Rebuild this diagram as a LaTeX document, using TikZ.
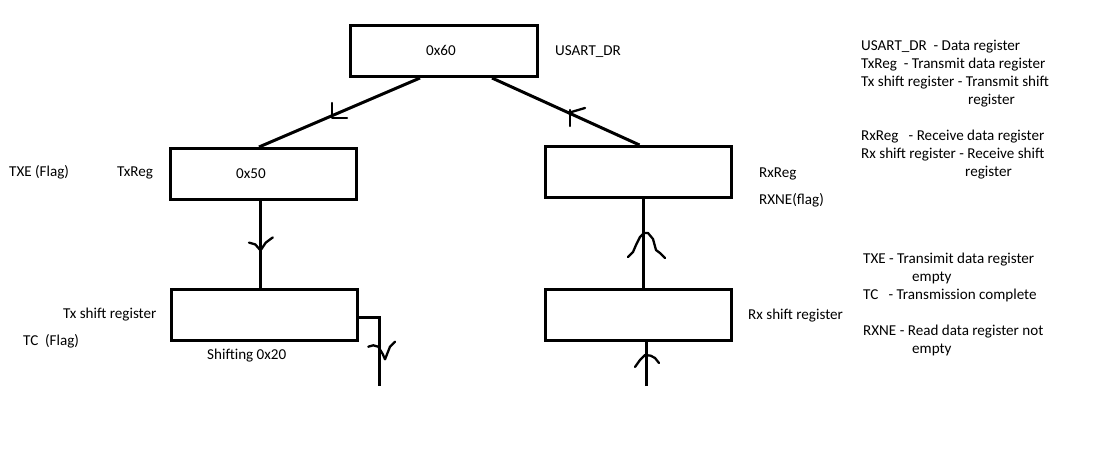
\documentclass[tikz,border=0pt]{standalone}
\usepackage{fontspec}
\setmainfont{Carlito}
\usetikzlibrary{calc}
\begin{document}
\begin{tikzpicture}[x=1pt,y=-1pt,
  regbox/.style={draw,line width=3pt,minimum width=186pt,minimum height=51pt,inner sep=0pt},
  wire/.style={line width=3pt},
  tickmark/.style={line width=2.3pt,line join=round,line cap=round},
  lbl/.style={anchor=base west,inner sep=0pt,font=\fontsize{15.1pt}{18pt}\selectfont}]
\fill[white] (0,0) rectangle (1117,448);
\useasboundingbox (0,0) rectangle (1117,448);

% boxes
\node[regbox,minimum width=187pt] (dr) at (444,51) {};
\node[regbox] (txreg) at (263,174) {};
\node[regbox] (rxreg) at (638.5,172) {};
\node[regbox] (txsh) at (264,314.5) {};
\node[regbox] (rxsh) at (638,315) {};

% texts inside boxes
\node[lbl] (t60) at (426,55) {0x60};
\node[lbl] (t50) at (236,178) {0x50};

% connectors
\coordinate (drL) at ($(dr.south)+(-24,0)$);
\coordinate (drR) at ($(dr.south)+(48,0)$);
\coordinate (txN) at ($(txreg.north)+(-4,0)$);
\coordinate (rxN) at ($(rxreg.north)+(1,0)$);
\draw[wire] (drL) -- (txN);
\draw[wire] (drR) -- (rxN);

\coordinate (txS) at ($(txreg.south)+(-3,0)$);
\coordinate (txshN) at ($(txsh.north)+(-4,2)$);
\draw[wire] (txS) -- (txshN);

\coordinate (rxS) at ($(rxreg.south)+(4.5,-3)$);
\coordinate (rxshN) at ($(rxsh.north)+(5,0)$);
\draw[wire] (rxshN) -- (rxS);

\coordinate (txE) at ($(txsh.east)+(0,2.5)$);
\coordinate (txOut) at (379,386);
\draw[wire] (txE) -| (txOut);

\coordinate (rxshS) at ($(rxsh.south)+(8,0)$);
\coordinate (rxIn) at (646,386);
\draw[wire] (rxIn) -- (rxshS);

% hand drawn arrow marks
\draw[tickmark] (332,103) -- (332,118) -- (347,118);
\draw[tickmark] (570,110) -- (570,126);
\draw[tickmark] (568,113) -- (585,108);
\draw[tickmark] (249,242.6) -- (255.3,244.4) -- (260.5,250.4) -- (265.8,242.6) -- (272.8,237.4);
\draw[tickmark] (368.3,346.7) -- (373.3,345.3) -- (378.3,346.7) -- (382.7,354) -- (385,359.3) -- (390,346.7) -- (395,341.7);
\draw[tickmark] (628,257) -- (633,252) -- (636,245) -- (640,237) -- (644,233) -- (648,233) -- (653,239) -- (656,250) -- (660,253) -- (665,258);
\draw[tickmark] (635,367) -- (640,360) -- (645,355) -- (650.7,355.7) -- (655,358) -- (659,363);

% labels around boxes
\node[lbl] (usart) at (555,55) {USART\_DR};
\node[lbl] (txe) at (9,176) {TXE (Flag)};
\node[lbl] (txregl) at (117,176) {TxReg};
\node[lbl] (txshl) at (63,318) {Tx shift register};
\node[lbl] (tcl) at (23,345) {TC\ \ (Flag)};
\node[lbl] (shift) at (207,359) {Shifting 0x20};
\node[lbl] (rxregl) at (759,177) {RxReg};
\node[lbl] (rxnel) at (759,204) {RXNE(flag)};
\node[lbl] (rxshl) at (748,319) {Rx shift register};

% legend
\node[lbl] (g1) at (861,50) {USART\_DR\ \ - Data register};
\node[lbl] (g2) at (861,68) {TxReg\ \ - Transmit data register};
\node[lbl] (g3) at (861,86) {Tx shift register - Transmit shift};
\node[lbl] (g4) at (968,104) {register};
\node[lbl] (g5) at (861,140) {RxReg\ \ \ - Receive data register};
\node[lbl] (g6) at (861,158) {Rx shift register - Receive shift};
\node[lbl] (g7) at (965,176) {register};
\node[lbl] (g8) at (863,263) {TXE - Transimit data register};
\node[lbl] (g9) at (912,281) {empty};
\node[lbl] (g10) at (863,299) {TC\ \ \ - Transmission complete};
\node[lbl] (g11) at (863,335) {RXNE - Read data register not};
\node[lbl] (g12) at (912,353) {empty};
\end{tikzpicture}
\end{document}
